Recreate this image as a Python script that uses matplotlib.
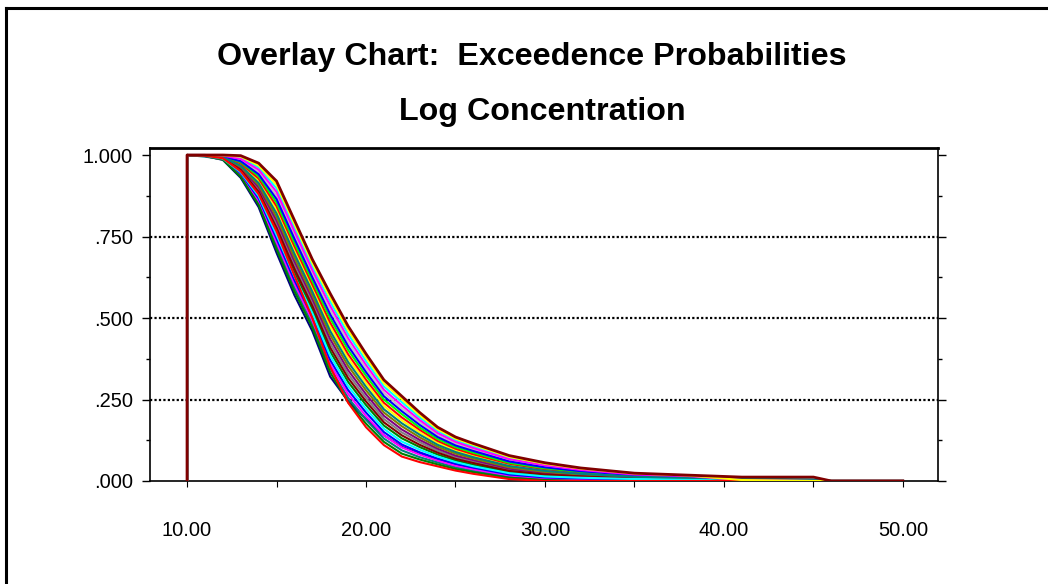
import numpy as np
import matplotlib.pyplot as plt
from matplotlib.lines import Line2D
from matplotlib.ticker import FixedLocator, MultipleLocator

plt.rcParams['font.family'] = ['Liberation Sans', 'DejaVu Sans']

# log concentration grid (first point is the foot of the vertical at 10)
conc = [10, 10, 11, 12, 13, 14, 15, 16, 17, 18, 19, 20, 21, 22, 23, 24,
        25, 26, 28, 30, 32, 35, 38, 41, 45, 46, 50]

# exceedence probability of each simulation run
run_navy = [0, 1.0, .997, .985, .93, .84, .70, .57, .46, .32, .245, .19, .14, .105,
            .083, .064, .05, .038, .018, .009, .006, .003, 0, 0, 0, 0, 0]
run_green = [0, 1.0, .997, .986, .933, .847, .711, .582, .471, .333, .242, .176, .12,
             .084, .066, .051, .037, .027, .010, .003, 0, 0, 0, 0, 0, 0, 0]
run_teal = [0, 1.0, .995, .987, .937, .854, .722, .593, .482, .346, .255, .188, .13,
            .094, .073, .057, .042, .031, .013, .006, .004, 0, 0, 0, 0, 0, 0]
run_magenta = [0, 1.0, .997, .987, .94, .86, .733, .605, .493, .358, .267, .199, .14,
               .103, .081, .063, .047, .036, .017, .008, .006, .004, 0, 0, 0, 0, 0]
run_blue = [0, 1.0, .998, .988, .944, .867, .744, .616, .504, .371, .279, .21, .15,
            .112, .088, .069, .053, .041, .020, .011, .008, .005, .004, 0, 0, 0, 0]
run_cyan = [0, 1.0, .998, .989, .947, .874, .755, .628, .515, .384, .291, .221, .16,
            .121, .096, .075, .058, .045, .024, .014, .010, .006, .005, 0, 0, 0, 0]
run_dkgreen = [0, 1.0, .998, .990, .950, .880, .766, .639, .526, .397, .304, .233, .17,
               .131, .104, .081, .063, .050, .028, .017, .012, .007, .005, .003, 0, 0, 0]
run_red = [0, 1.0, .998, .990, .950, .880, .766, .630, .500, .350, .240, .165, .11,
           .075, .058, .045, .032, .022, .006, 0, 0, 0, 0, 0, 0, 0, 0]
run_maroon2 = [0, 1.0, .998, .990, .954, .887, .777, .651, .537, .409, .316, .244, .18,
               .140, .111, .087, .068, .055, .031, .020, .014, .008, .006, .004, 0, 0, 0]
run_gray = [0, 1.0, .998, .991, .957, .894, .788, .662, .548, .422, .328, .255, .19,
            .149, .119, .093, .073, .059, .035, .022, .016, .010, .007, .005, 0, 0, 0]
run_purple = [0, 1.0, .998, .992, .961, .901, .799, .674, .559, .435, .340, .266, .20,
              .158, .126, .099, .078, .064, .038, .025, .018, .011, .008, .005, 0, 0, 0]
run_olive = [0, 1.0, .999, .993, .964, .908, .810, .685, .570, .448, .353, .278, .21,
             .168, .134, .105, .084, .069, .042, .028, .020, .012, .009, .006, 0, 0, 0]
run_teal2 = [0, 1.0, .999, .993, .967, .914, .821, .697, .581, .460, .365, .289, .22,
             .177, .142, .111, .089, .073, .046, .031, .022, .013, .010, .007, .005, 0, 0]
run_yellow2 = [0, 1.0, .999, .994, .971, .921, .832, .708, .592, .473, .377, .300, .23,
               .186, .149, .117, .094, .078, .049, .034, .024, .014, .011, .007, 0, 0, 0]
run_red2 = [0, 1.0, .999, .995, .974, .928, .843, .720, .603, .486, .389, .311, .24,
            .195, .157, .123, .099, .082, .053, .036, .026, .016, .012, .008, 0, 0, 0]
run_lime = [0, 1.0, .999, .996, .978, .935, .854, .731, .614, .499, .402, .323, .25,
            .205, .164, .129, .104, .087, .056, .039, .028, .017, .013, .008, 0, 0, 0]
run_blue2 = [0, 1.0, 1.0, .996, .981, .941, .865, .743, .625, .511, .414, .334, .26,
             .214, .172, .135, .109, .092, .060, .042, .030, .018, .014, .009, 0, 0, 0]
run_silver = [0, 1.0, 1.0, .997, .984, .948, .876, .754, .636, .524, .426, .345, .27,
              .223, .180, .141, .114, .096, .064, .045, .032, .019, .014, .010, 0, 0, 0]
run_magenta2 = [0, 1.0, 1.0, .998, .988, .955, .887, .766, .647, .537, .438, .356, .28,
                .232, .187, .147, .120, .101, .067, .048, .034, .020, .015, .003, 0, 0, 0]
run_cyan2 = [0, 1.0, 1.0, .999, .991, .962, .898, .777, .658, .550, .451, .368, .29,
             .242, .195, .153, .125, .106, .071, .050, .036, .022, .016, .011, 0, 0, 0]
run_yellow = [0, 1.0, 1.0, .999, .995, .968, .909, .789, .669, .562, .463, .379, .30,
              .251, .202, .159, .130, .111, .074, .053, .038, .023, .017, .003, 0, 0, 0]
run_maroon = [0, 1.0, 1.0, 1.0, .998, .975, .920, .800, .680, .575, .475, .390, .31,
              .260, .210, .165, .135, .115, .078, .056, .040, .024, .018, .012, .012, 0, 0]

# drawing order of the runs (later ones sit on top)
runs = [run_navy, run_yellow2, run_teal, run_red2, run_gray, run_magenta,
        run_dkgreen, run_cyan2, run_purple, run_blue, run_olive, run_lime,
        run_green, run_silver, run_maroon2, run_cyan, run_blue2, run_teal2,
        run_magenta2, run_red, run_yellow, run_maroon]
run_colors = ['#000080', '#FFFF00', '#008080', '#FF0000', '#808080', '#FF00FF',
              '#008000', '#00FFFF', '#800080', '#0000FF', '#808000', '#00FF00',
              '#008000', '#C0C0C0', '#800000', '#00FFFF', '#0000FF', '#008080',
              '#FF00FF', '#FF0000', '#FFFF00', '#800000']

y_ticks = [0, .25, .5, .75, 1.0]
y_tick_labels = ['.000', '.250', '.500', '.750', '1.000']
x_ticks = [10, 20, 30, 40, 50]
x_tick_labels = ['10.00', '20.00', '30.00', '40.00', '50.00']

fig = plt.figure(figsize=(10.48, 5.84), dpi=100)
ax = fig.add_axes([150 / 1048, 1 - 481 / 584, 788 / 1048, 333 / 584])

for yy in [.25, .5, .75]:
    ax.axhline(yy, color='black', linestyle=(0, (1, 1)), lw=1.6, zorder=0)

for i, (run, col) in enumerate(zip(runs, run_colors)):
    lw = 2.0 if i == len(runs) - 1 else 1.5
    ax.plot(conc, run, color=col, lw=lw, zorder=2 + i, solid_joinstyle='round')

ax.set_xlim(7.93, 51.96)
ax.set_ylim(0, 1.0215)

ax.set_yticks(y_ticks)
ax.set_yticklabels(y_tick_labels)
ax.yaxis.set_minor_locator(FixedLocator([.125, .375, .625, .875]))
ax.set_xticks(x_ticks)
ax.set_xticklabels(x_tick_labels)
ax.xaxis.set_minor_locator(MultipleLocator(5))

ax.tick_params(axis='y', which='major', direction='out', length=6, width=1,
               labelsize=14.5, pad=6.5, right=True)
ax.tick_params(axis='y', which='minor', direction='out', length=3, width=1, right=True)
ax.tick_params(axis='x', which='both', direction='out', length=4, width=0.8,
               labelsize=14.5, pad=25)

for s in ax.spines.values():
    s.set_linewidth(1.2)
ax.spines['top'].set_linewidth(2)

fig.text(532 / 1048, 1 - 57 / 584, 'Overlay Chart:  Exceedence Probabilities',
         ha='center', va='center', fontsize=23.2, fontweight='bold')
fig.text(542 / 1048, 1 - 112 / 584, 'Log Concentration',
         ha='center', va='center', fontsize=23.2, fontweight='bold')

# outer frame (left and top edges)
fig.add_artist(Line2D([6 / 1048, 6 / 1048], [0, 1 - 8 / 584], color='black', lw=2.2,
                      transform=fig.transFigure))
fig.add_artist(Line2D([6 / 1048, 1], [1 - 8 / 584, 1 - 8 / 584], color='black', lw=2.2,
                      transform=fig.transFigure))

fig.savefig('out.png', dpi=100)
